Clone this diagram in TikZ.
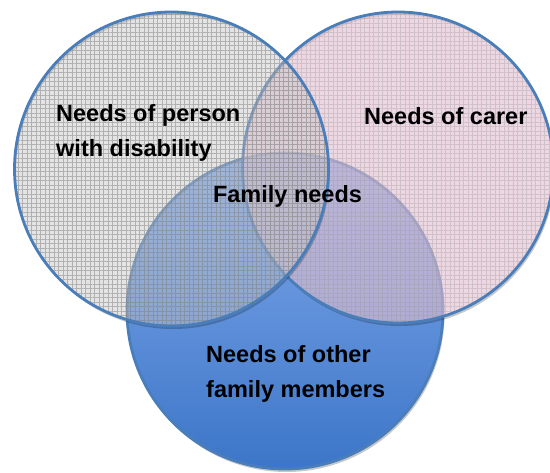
\documentclass[tikz,border=0pt]{standalone}
\usepackage{fontspec}
\setmainfont{Liberation Sans}
\usetikzlibrary{patterns.meta}
\definecolor{ring}{RGB}{74,126,187}
\definecolor{bluetop}{RGB}{132,170,236}
\definecolor{bluebot}{RGB}{60,118,200}
\definecolor{grayfill}{RGB}{196,196,196}
\definecolor{pinkfill}{RGB}{226,190,208}
\tikzset{
  ringline/.style={draw=ring, line width=2.8pt},
  shadowring/.style={fill=black, opacity=0.22, even odd rule},
  label/.style={font=\fontsize{23.5}{35}\selectfont\bfseries, inner sep=0pt, align=left}
}
\begin{document}
\begin{tikzpicture}[x=1pt,y=-1pt]
\useasboundingbox (0,0) rectangle (550,473);
\coordinate (cg) at (171.5,169);
\coordinate (cp) at (398,167.5);
\coordinate (cb) at (285,311);
% blue circle
\fill[shadowring] ([shift={(1.5,3)}]cb) circle (158) (cb) circle (158);
\shade[top color=bluetop, bottom color=bluebot] (cb) circle (158);
\draw[ringline] (cb) circle (158);
% pink circle
\fill[shadowring] ([shift={(1.5,3)}]cp) circle (155.5) (cp) circle (155.5);
\fill[pinkfill, opacity=0.62] (cp) circle (155.5);
\fill[pattern={Hatch[angle=0,distance=4.5pt,line width=0.5pt]}, pattern color=gray!80, opacity=0.35] (cp) circle (155.5);
\draw[ringline] (cp) circle (155.5);
% gray circle
\fill[shadowring] ([shift={(1.5,3)}]cg) circle (157) (cg) circle (157);
\fill[grayfill, opacity=0.45] (cg) circle (157);
\fill[pattern={Hatch[angle=0,distance=4.5pt,line width=0.6pt]}, pattern color=gray, opacity=0.5] (cg) circle (157);
\draw[ringline] (cg) circle (157);
% texts (base anchor = baseline of the last line)
\node[label, anchor=base west] (tpers) at (56,156.7) {Needs of person\\with disability};
\node[label, anchor=base west] (tcarer) at (364,125) {Needs of carer};
\node[label, anchor=base] (tfam) at (287.5,203) {Family needs};
\node[label, anchor=base west] (tother) at (206,398) {Needs of other\\family members};
\end{tikzpicture}
\end{document}
